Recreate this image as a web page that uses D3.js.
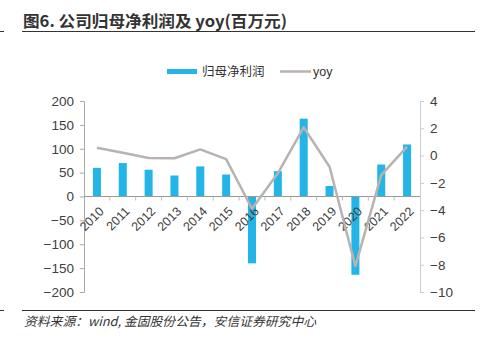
<!DOCTYPE html>
<html><head><meta charset="utf-8">
<script src="https://cdn.jsdelivr.net/npm/d3@7"></script>
<style>
body{margin:0;background:#fff;}
svg{display:block;}
</style></head>
<body>
<svg id="c" width="480" height="337"></svg>
<script>
const categories = ["2010","2011","2012","2013","2014","2015","2016","2017","2018","2019","2020","2021","2022"];
const profit = [60,70,56,44,63,46,-140,53,163,22,-164,67,109];
const yoy = [0.57,0.2,-0.18,-0.2,0.45,-0.26,-3.9,-1.3,2.07,-0.82,-8.1,-1.43,0.65];
const leftTicks = [200,150,100,50,0,-50,-100,-150,-200];
const rightTicks = [4,2,0,-2,-4,-6,-8,-10];

const svg = d3.select("#c");
const font = "Arial, 'Liberation Sans', 'Noto Sans CJK SC', sans-serif";
const L = 84, R = 420, T = 101, B = 292;

const x = d3.scaleBand().domain(categories).range([L, R]);
const yL = d3.scaleLinear().domain([-200, 200]).range([B, T]);
const yR = d3.scaleLinear().domain([-10, 4]).range([B, T]);

// title
svg.append("text").attr("x", 23).attr("y", 27).attr("font-family", "'Noto Sans CJK SC', sans-serif")
  .attr("font-size", 16).attr("font-weight", "bold").attr("fill", "#333")
  .attr("textLength", 264).attr("lengthAdjust", "spacingAndGlyphs")
  .text("图6. 公司归母净利润及 yoy(百万元)");
svg.append("line").attr("x1", 22).attr("x2", 475).attr("y1", 31.5).attr("y2", 31.5).attr("stroke", "#333").attr("stroke-width", 1.2);
svg.append("line").attr("x1", 0).attr("x2", 4).attr("y1", 31.5).attr("y2", 31.5).attr("stroke", "#333").attr("stroke-width", 1);

// footer
svg.append("line").attr("x1", 22).attr("x2", 475).attr("y1", 310.5).attr("y2", 310.5).attr("stroke", "#333").attr("stroke-width", 1.2);
svg.append("line").attr("x1", 0).attr("x2", 4).attr("y1", 310.5).attr("y2", 310.5).attr("stroke", "#333").attr("stroke-width", 1);
svg.append("text").attr("x", 24).attr("y", 326).attr("font-family", "'Noto Sans CJK SC', sans-serif")
  .attr("font-size", 12.5).attr("font-style", "italic").attr("fill", "#333")
  .attr("textLength", 292).attr("lengthAdjust", "spacingAndGlyphs")
  .text("资料来源：wind, 金固股份公告，安信证券研究中心");

// legend
svg.append("rect").attr("x", 167).attr("y", 69).attr("width", 30).attr("height", 5).attr("fill", "#22b5e6");
svg.append("text").attr("x", 202).attr("y", 76).attr("font-family", "'Noto Sans CJK SC', sans-serif")
  .attr("font-size", 12.5).attr("fill", "#333").text("归母净利润");
svg.append("line").attr("x1", 280).attr("x2", 311).attr("y1", 71.5).attr("y2", 71.5).attr("stroke", "#b8b2b1").attr("stroke-width", 2.5);
svg.append("text").attr("x", 313).attr("y", 76).attr("font-family", font)
  .attr("font-size", 12.5).attr("fill", "#333").text("yoy");

// bars
svg.append("g").selectAll("rect").data(profit).join("rect")
  .attr("x", (d, i) => x(categories[i]) + x.bandwidth() / 2 - 4)
  .attr("width", 8)
  .attr("y", d => yL(Math.max(0, d)))
  .attr("height", d => Math.abs(yL(d) - yL(0)))
  .attr("fill", "#22b5e6");

// left axis
const gL = svg.append("g").attr("transform", `translate(${L},0)`)
  .call(d3.axisLeft(yL).tickValues(leftTicks).tickSize(4).tickPadding(6).tickFormat(d3.format("d")));
gL.select(".domain").attr("stroke", "#aaa");
gL.selectAll(".tick line").attr("stroke", "#aaa");
gL.selectAll("text").attr("font-family", font).attr("font-size", 13.5).attr("fill", "#404040");

// right axis
const gR = svg.append("g").attr("transform", `translate(${R},0)`)
  .call(d3.axisRight(yR).tickValues(rightTicks).tickSize(4).tickPadding(6).tickFormat(d3.format("d")));
gR.select(".domain").attr("stroke", "#ccc");
gR.selectAll(".tick line").attr("stroke", "#ccc");
gR.selectAll("text").attr("font-family", font).attr("font-size", 13.5).attr("fill", "#404040");

// x axis at zero
const gX = svg.append("g").attr("transform", `translate(0,${yL(0)})`);
gX.append("line").attr("x1", L).attr("x2", R).attr("stroke", "#999");
gX.selectAll("line.t").data(categories.slice(1)).join("line").attr("class", "t")
  .attr("x1", d => x(d)).attr("x2", d => x(d)).attr("y1", 0).attr("y2", 4).attr("stroke", "#bbb");
gX.selectAll("text").data(categories).join("text")
  .attr("transform", d => `translate(${x(d) + x.bandwidth() / 2 + 1},${9}) rotate(-45)`)
  .attr("text-anchor", "end").attr("dy", "0.75em")
  .attr("font-family", font).attr("font-size", 12.5).attr("fill", "#404040")
  .text(d => d);

// yoy line
const line = d3.line().x((d, i) => x(categories[i]) + x.bandwidth() / 2).y(d => yR(d));
svg.append("path").datum(yoy).attr("d", line).attr("fill", "none")
  .attr("stroke", "#b8b2b1").attr("stroke-width", 2.5).attr("stroke-linejoin", "round");
</script>
</body></html>
